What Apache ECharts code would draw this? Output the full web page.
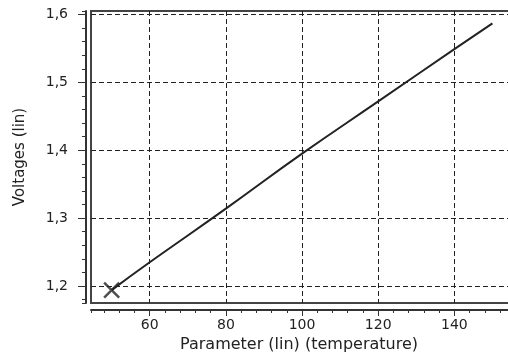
<!DOCTYPE html>
<html>
<head>
<meta charset="utf-8">
<script src="https://cdn.jsdelivr.net/npm/echarts@6/dist/echarts.min.js"></script>
<style>
  html, body { margin: 0; padding: 0; background: #fff; }
  #chart { width: 508px; height: 358px; }
</style>
</head>
<body>
<div id="chart"></div>
<script>
// values
const temperatures = [50, 60, 80, 100, 120, 140, 150];
const voltages = [1.194, 1.235, 1.314, 1.395, 1.472, 1.549, 1.587];
const xRange = [44.58, 157.5];
const yRange = [1.175, 1.6052];

const chart = echarts.init(document.getElementById('chart'));
const ink = '#222';
const font = 'DejaVu Sans';

const lineData = temperatures.map((t, i) => [t, voltages[i]]);

chart.setOption({
    animation: false,
    grid: {
        left: 91,
        top: 11,
        width: 430,
        bottom: 55,
        outerBoundsMode: 'none',
        containLabel: false,
        show: true,
        borderColor: '#444',
        borderWidth: 2,
    },
    xAxis: [
        {
            type: 'value',
            min: xRange[0],
            max: xRange[1],
            minInterval: 20,
            maxInterval: 20,
            offset: 7,
            name: 'Parameter (lin) (temperature)',
            nameLocation: 'middle',
            nameGap: 25,
            // the plot runs past the right edge, so pull the title back to the visible centre
            nameTextStyle: { color: ink, fontFamily: font, fontSize: 16, padding: [0, 14, 0, 0] },
            axisLine: { show: true, lineStyle: { color: '#333', width: 2 } },
            axisTick: { show: true, length: 6, lineStyle: { color: '#333', width: 1 } },
            axisLabel: {
                color: ink, fontFamily: font, fontSize: 14, margin: 8,
                showMinLabel: false, showMaxLabel: false,
            },
            splitLine: {
                show: true,
                showMinLine: false,
                showMaxLine: false,
                lineStyle: { color: '#222', type: [5, 3], width: 1 },
            },
        },
        {
            type: 'value',
            min: xRange[0],
            max: xRange[1],
            minInterval: 4,
            maxInterval: 4,
            offset: 7,
            position: 'bottom',
            axisLine: { show: false },
            axisTick: { show: true, length: 3, lineStyle: { color: '#333', width: 1 } },
            axisLabel: { show: false },
            splitLine: { show: false },
        },
    ],
    yAxis: [
        {
            type: 'value',
            min: yRange[0],
            max: yRange[1],
            minInterval: 0.1,
            maxInterval: 0.1,
            offset: 5,
            name: 'Voltages (lin)',
            nameLocation: 'middle',
            nameGap: 58,
            nameTextStyle: { color: ink, fontFamily: font, fontSize: 15 },
            axisLine: { show: true, lineStyle: { color: '#333', width: 2 } },
            axisTick: { show: true, length: 8, lineStyle: { color: '#333', width: 1 } },
            axisLabel: {
                color: ink, fontFamily: font, fontSize: 14, margin: 18,
                showMinLabel: false, showMaxLabel: false,
                formatter: v => v.toFixed(1).replace('.', ','),
            },
            splitLine: {
                show: true,
                showMinLine: false,
                showMaxLine: false,
                lineStyle: { color: '#222', type: [5, 3], width: 1 },
            },
        },
        {
            type: 'value',
            min: yRange[0],
            max: yRange[1],
            minInterval: 0.02,
            maxInterval: 0.02,
            offset: 5,
            position: 'left',
            axisLine: { show: false },
            axisTick: { show: true, length: 4, lineStyle: { color: '#333', width: 1 } },
            axisLabel: { show: false },
            splitLine: { show: false },
        },
    ],
    series: [
        {
            type: 'line',
            data: lineData,
            showSymbol: false,
            smooth: true,
            lineStyle: { color: ink, width: 2 },
        },
        {
            // cross marker on the first point
            type: 'scatter',
            data: [lineData[0]],
            symbol: 'path://M0,0L10,10M10,0L0,10',
            symbolSize: 15,
            itemStyle: { color: 'none', borderColor: ink, borderWidth: 2.5 },
        },
    ],
});
</script>
</body>
</html>
